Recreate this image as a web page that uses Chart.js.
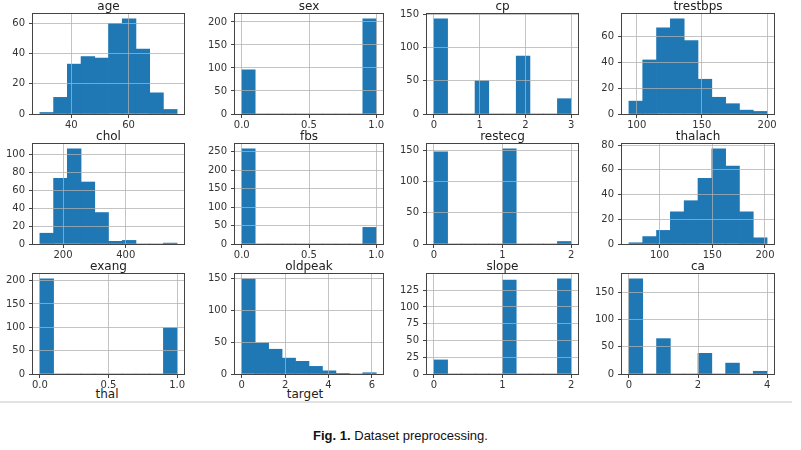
<!DOCTYPE html>
<html>
<head>
<meta charset="utf-8">
<script src="https://cdn.jsdelivr.net/npm/chart.js@4/dist/chart.umd.min.js"></script>
<style>
  body { margin: 0; background: #fff; width: 801px; height: 450px; position: relative; overflow: hidden; font-family: 'DejaVu Sans', sans-serif; }
  canvas { position: absolute; }
  .lbl { position: absolute; font-size: 12px; color: #222; transform: translateX(-50%); white-space: nowrap; }
  #sep { position: absolute; left: 0; top: 401px; width: 792px; height: 2px; background: #e2e2e2; }
  #cap { position: absolute; left: 0; width: 801px; top: 428px; text-align: center; font: 13px 'Liberation Sans', Arial, sans-serif; color: #111; }
</style>
</head>
<body>
<div class="lbl" style="left:107px;top:387px">thal</div>
<div class="lbl" style="left:305px;top:387px">target</div>
<div id="sep"></div>
<div id="cap"><b>Fig. 1.</b> Dataset preprocessing.</div>
<script>
// 12 pandas-style histograms, 10 bins each
const titles = ['age', 'sex', 'cp', 'trestbps', 'chol', 'fbs', 'restecg', 'thalach', 'exang', 'oldpeak', 'slope', 'ca'];
const binRanges = [[29, 77], [0, 1], [0, 3], [94, 200], [126, 564], [0, 1], [0, 2], [71, 202], [0, 1], [0, 6.2], [0, 2], [0, 4]];

const ageCounts = [1, 11, 33, 38, 37, 60, 63, 43, 14, 3];
const sexCounts = [96, 0, 0, 0, 0, 0, 0, 0, 0, 207];
const cpCounts = [143, 0, 0, 50, 0, 0, 87, 0, 0, 23];
const trestbpsCounts = [10, 42, 67, 74, 57, 27, 13, 8, 3, 2];
const cholCounts = [12, 73, 106, 69, 35, 3, 4, 0, 0, 1];
const fbsCounts = [258, 0, 0, 0, 0, 0, 0, 0, 0, 45];
const restecgCounts = [147, 0, 0, 0, 0, 152, 0, 0, 0, 4];
const thalachCounts = [1, 6, 11, 26, 35, 53, 77, 63, 26, 5];
const exangCounts = [204, 0, 0, 0, 0, 0, 0, 0, 0, 99];
const oldpeakCounts = [150, 49, 39, 25, 20, 12, 5, 1, 0, 2];
const slopeCounts = [21, 0, 0, 0, 0, 140, 0, 0, 0, 142];
const caCounts = [175, 0, 65, 0, 0, 38, 0, 20, 0, 5];

const counts = [ageCounts, sexCounts, cpCounts, trestbpsCounts, cholCounts, fbsCounts,
  restecgCounts, thalachCounts, exangCounts, oldpeakCounts, slopeCounts, caCounts];

const xTicks = [[40, 60], [0, 0.5, 1], [0, 1, 2, 3], [100, 150, 200], [200, 400], [0, 0.5, 1],
  [0, 1, 2], [100, 150, 200], [0, 0.5, 1], [0, 2, 4, 6], [0, 1, 2], [0, 2, 4]];
const xDecimals = [0, 1, 0, 0, 0, 1, 0, 0, 1, 0, 0, 0];
const yTicks = [[0, 20, 40, 60], [0, 50, 100, 150, 200], [0, 50, 100, 150], [0, 20, 40, 60],
  [0, 20, 40, 60, 80, 100], [0, 50, 100, 150, 200, 250], [0, 50, 100, 150], [0, 20, 40, 60, 80],
  [0, 50, 100, 150, 200], [0, 50, 100, 150], [0, 25, 50, 75, 100, 125], [0, 50, 100, 150]];

// panel geometry (plot areas)
const colLeft = [33, 235, 427, 622];
const colRight = [184, 383, 578, 774];
const rowTop = [14, 144, 274];
const plotH = 100;
const PAD_L = 32, PAD_T = 14, PAD_R = 14, PAD_B = 16;

const BLUE = '#1f77b4';
const tickFont = { family: 'DejaVu Sans', size: 10 };

const framePlugin = {
  id: 'frame',
  afterDraw(chart, args, opts) {
    const a = chart.chartArea, ctx = chart.ctx;
    ctx.save();
    ctx.strokeStyle = '#444';
    ctx.lineWidth = 1;
    ctx.strokeRect(a.left - 0.5, a.top - 0.5, a.right - a.left + 1, a.bottom - a.top + 1);
    ctx.fillStyle = '#222';
    ctx.font = '12px "DejaVu Sans"';
    ctx.textAlign = 'center';
    ctx.textBaseline = 'alphabetic';
    ctx.fillText(opts.title, (a.left + a.right) / 2, a.top - 4.5);
    ctx.restore();
  },
};

function binCenters(range, n) {
  const w = (range[1] - range[0]) / n;
  return Array.from({ length: n }, (_, i) => range[0] + w * (i + 0.5));
}

titles.forEach((title, i) => {
  const r = Math.floor(i / 4), c = i % 4;
  const plotW = colRight[c] - colLeft[c];
  const cv = document.createElement('canvas');
  cv.width = PAD_L + plotW + PAD_R;
  cv.height = PAD_T + plotH + PAD_B;
  cv.style.left = (colLeft[c] - PAD_L) + 'px';
  cv.style.top = (rowTop[r] - PAD_T) + 'px';
  document.body.appendChild(cv);

  const rng = binRanges[i];
  const span = rng[1] - rng[0];
  const centers = binCenters(rng, counts[i].length);
  const data = counts[i].map((v, k) => ({ x: centers[k], y: v }));
  const ymax = Math.max(...counts[i]) * 1.05;
  const xt = xTicks[i], yt = yTicks[i], dec = xDecimals[i];

  const grid = { z: 1, offset: false, color: 'rgba(176,176,176,0.75)', lineWidth: 1, tickLength: 4, tickColor: '#444' };

  new Chart(cv, {
    type: 'bar',
    data: {
      datasets: [{ data, backgroundColor: BLUE, borderWidth: 0, barPercentage: 1, categoryPercentage: 1, grouped: false }],
    },
    options: {
      responsive: false,
      animation: false,
      layout: { padding: { top: PAD_T, right: PAD_R, left: 0, bottom: 0 } },
      plugins: { legend: { display: false }, tooltip: { enabled: false }, frame: { title } },
      scales: {
        x: {
          type: 'linear',
          min: rng[0] - span * 0.05,
          max: rng[1] + span * 0.05,
          offset: false,
          grid,
          border: { display: false },
          afterBuildTicks: s => { s.ticks = xt.map(v => ({ value: v })); },
          afterFit: s => { s.height = PAD_B; },
          ticks: { color: '#333', font: tickFont, padding: 1, maxRotation: 0, autoSkip: false, callback: v => v.toFixed(dec) },
        },
        y: {
          min: 0,
          max: ymax,
          grid,
          border: { display: false },
          afterBuildTicks: s => { s.ticks = yt.map(v => ({ value: v })); },
          afterFit: s => { s.width = PAD_L; },
          ticks: { color: '#333', font: tickFont, padding: 4, autoSkip: false, callback: v => String(v) },
        },
      },
    },
    plugins: [framePlugin],
  });
});
</script>
</body>
</html>
